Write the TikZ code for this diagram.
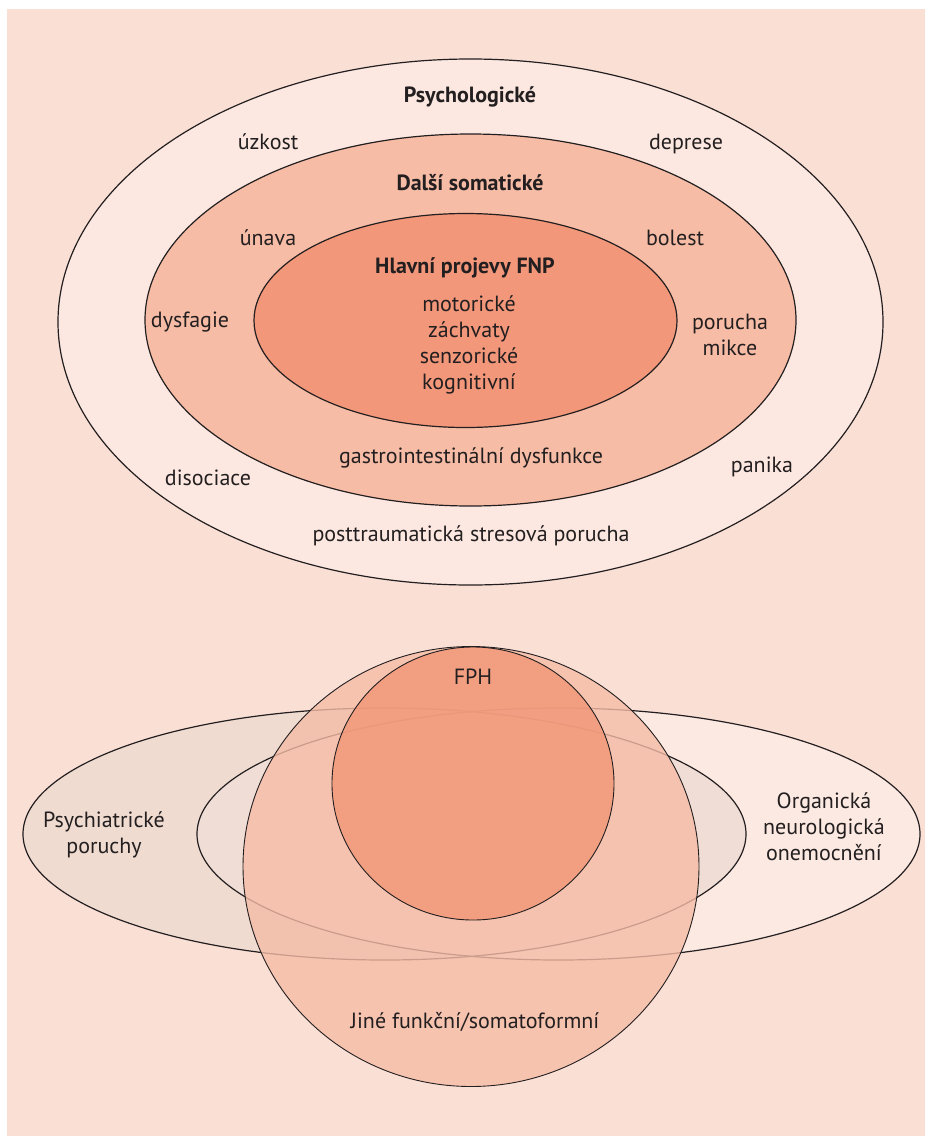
\documentclass[tikz,border=0pt]{standalone}
\usepackage{fontspec}
\setmainfont{PT Sans}
\usepackage{tikz}
\usetikzlibrary{positioning}
\usepackage{xcolor}
\definecolor{bgpink}{HTML}{FADFD5}
\definecolor{ringout}{HTML}{FCE8E0}
\definecolor{ringmid}{HTML}{F7BCA5}
\definecolor{ringin}{HTML}{F3977A}
\definecolor{psyfill}{HTML}{EFDBD0}
\definecolor{orgfill}{HTML}{FCE9E2}
\definecolor{bothfill}{HTML}{F0DDD6}
\definecolor{jinefill}{HTML}{F5BCA6}
\definecolor{fphfill}{HTML}{F29576}
\definecolor{inkgray}{HTML}{231F20}

\begin{document}
\begin{tikzpicture}[x=1pt,y=-1pt,
  lbl/.style={text=inkgray,align=center,inner sep=0pt,font=\fontsize{22}{26}\selectfont},
  ttl/.style={lbl,font=\fontsize{22}{26}\selectfont\bfseries},
  rim/.style={draw=inkgray,line width=1.2pt},
  thinrim/.style={draw=inkgray,line width=0.9pt}]
\useasboundingbox (0,0) rectangle (925,1136);
\fill[white] (0,0) rectangle (925,1136);
\fill[bgpink] (7,9) rectangle (925,1136);

\filldraw[rim,fill=ringout] (470.5,322) ellipse [x radius=412.5pt,y radius=263pt];
\filldraw[rim,fill=ringmid] (470.5,320) ellipse [x radius=325.5pt,y radius=186pt];
\filldraw[rim,fill=ringin] (465.5,320.5) ellipse [x radius=211.5pt,y radius=107pt];

\node[ttl] (psych) at (470,97) {Psychologické};
\node[lbl] (uzkost) at (268,142) {úzkost};
\node[lbl] (deprese) at (686,144) {deprese};
\node[ttl] (somat) at (470,183) {Další somatické};
\node[lbl] (unava) at (268,238) {únava};
\node[lbl] (bolest) at (675,238) {bolest};
\node[ttl] (hlavni) at (465,268) {Hlavní projevy FNP};
\node[lbl] (projevy) at (469,345) {motorické\\záchvaty\\senzorické\\kognitivní};
\node[lbl] (dysfagie) at (190,322) {dysfagie};
\node[lbl] (mikce) at (730,335) {porucha\\mikce};
\node[lbl] (gastro) at (471,458) {gastrointestinální dysfunkce};
\node[lbl] (disoc) at (208,478) {disociace};
\node[lbl] (panika) at (762,467) {panika};
\node[lbl] (ptsd) at (471,536) {posttraumatická stresová porucha};

\fill[orgfill] (558.5,834) ellipse [x radius=361.5pt,y radius=126pt];
\fill[psyfill] (384.5,834) ellipse [x radius=361.5pt,y radius=126pt];
\begin{scope}
  \clip (558.5,834) ellipse [x radius=361.5pt,y radius=126pt];
  \fill[bothfill] (384.5,834) ellipse [x radius=361.5pt,y radius=126pt];
\end{scope}
\draw[rim] (558.5,834) ellipse [x radius=361.5pt,y radius=126pt];
\draw[rim] (384.5,834) ellipse [x radius=361.5pt,y radius=126pt];
\filldraw[thinrim,fill=jinefill,fill opacity=0.8] (471,866.5) ellipse [x radius=228pt,y radius=220pt];
\filldraw[thinrim,fill=fphfill,fill opacity=0.8] (473,783.5) ellipse [x radius=141pt,y radius=136.5pt];

\node[lbl] (fph) at (473,677) {FPH};
\node[lbl] (psychiatr) at (104,835) {Psychiatrické\\poruchy};
\node[lbl] (organ) at (824,827) {Organická\\neurologická\\onemocnění};
\node[lbl] (jine) at (475,1022) {Jiné funkční/somatoformní};
\end{tikzpicture}
\end{document}
